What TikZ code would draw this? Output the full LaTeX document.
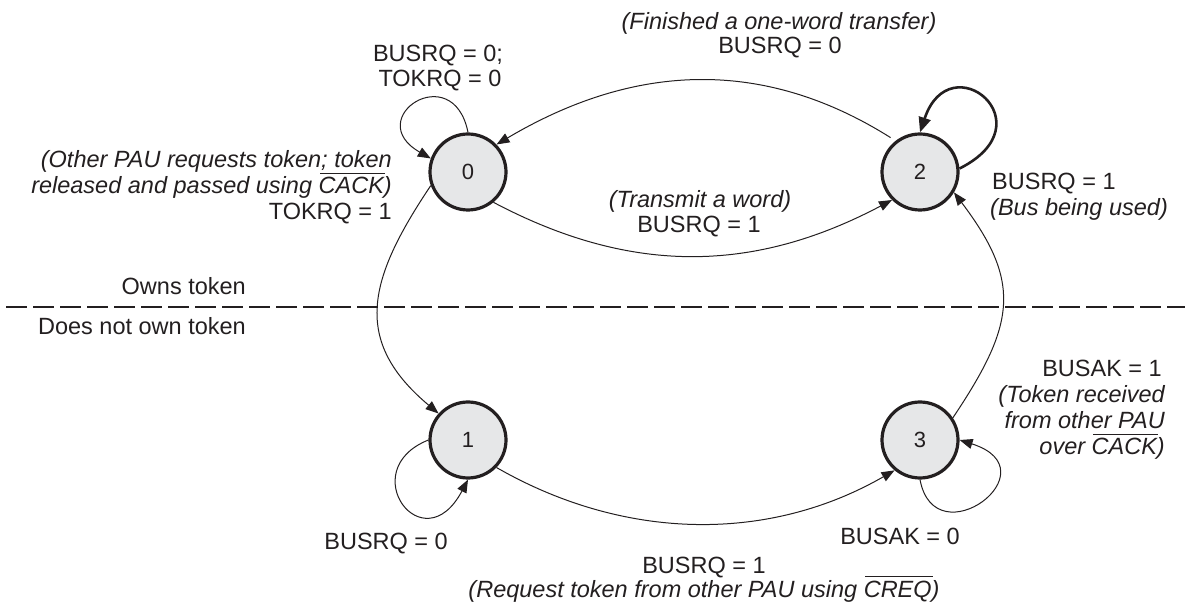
\documentclass[tikz,border=0pt]{standalone}
\usepackage{fontspec}
\setmainfont{Liberation Sans}
\usetikzlibrary{arrows.meta}
\definecolor{statefill}{HTML}{E6E7E8}
\definecolor{ink}{HTML}{231F20}
\newcommand\ovl[1]{\setbox0\hbox{#1}\rlap{\kern1.5pt\raise\dimexpr\ht0+3.5pt\relax\hbox{\vrule height 1.1pt depth 0pt width \wd0}}\box0}
\begin{document}
\begin{tikzpicture}[x=1pt,y=1pt,
  state/.style={circle,draw=ink,line width=3.2pt,fill=statefill,minimum size=76pt,inner sep=0pt,
    text=ink,font=\fontsize{22}{24}\selectfont},
  lbl/.style={inner sep=0pt,text=ink,font=\fontsize{23.5}{26}\selectfont},
  ilbl/.style={lbl,font=\fontsize{23.5}{26}\selectfont\itshape},
  edge/.style={draw=ink,line width=1pt,-{Triangle[length=13pt,width=10pt]}},
  boldedge/.style={edge,line width=2.6pt,-{Triangle[length=15pt,width=12pt]}},
  divider/.style={draw=ink,line width=2.4pt,dash pattern=on 20.5pt off 6.5pt,dash phase=21pt}
]
\useasboundingbox (0,0) rectangle (1185,605);

% states
\node[state] (s0) at (468,433) {0};
\node[state] (s2) at (920,433) {2};
\node[state] (s1) at (468,165) {1};
\node[state] (s3) at (920,165) {3};

% divider
\coordinate (dl) at (0,298);
\coordinate (dr) at (1185,298);
\draw[divider] (dl) -- (dr);

% transitions
\draw[edge] (s0.90) .. controls +(-15,75) and +(-70,40) .. (s0.160);
\draw[boldedge] (s2.5) .. controls +(90,45) and +(30,90) .. (s2.90);
\draw[edge] (s1.180) .. controls +(-75,-30) and +(-45,-85) .. (s1.-90);
\draw[edge] (s3.-90) .. controls +(15,-80) and +(95,-30) .. (s3.0);
\draw[edge,shorten <=6pt] (s2.128) .. controls +(-135,85) and +(135,80) .. (s0.44);
\draw[edge] (s0.-50) .. controls +(138,-73) and +(-138,-73) .. (s2.-135);
\draw[edge] (s0.200) .. controls +(-63,-94) and +(-87,73) .. (s1.138);
\draw[edge] (s1.-44) .. controls +(127,-73) and +(-127,-73) .. (s3.230);
\draw[edge] (s3.34) .. controls +(63,94) and +(68,-90) .. (s2.-31);

% labels
\node[ilbl,anchor=base] (ta) at (779,575) {(Finished a one-word transfer)};
\node[lbl,anchor=base] (tb) at (780,551) {BUSRQ = 0};

\node[lbl,anchor=base] (la) at (438,543) {BUSRQ = 0;};
\node[lbl,anchor=base] (lb) at (440,518) {TOKRQ = 0};

\node[ilbl,anchor=base east] (oa) at (392,437) {(Other PAU requests token; token};
\node[ilbl,anchor=base east] (ob) at (392,411) {released and passed using \ovl{CACK})};
\node[lbl,anchor=base east] (oc) at (392,385) {TOKRQ = 1};

\node[ilbl,anchor=base] (ma) at (700,397) {(Transmit a word)};
\node[lbl,anchor=base] (mb) at (699,372) {BUSRQ = 1};

\node[lbl,anchor=base west] (ra) at (992,415) {BUSRQ = 1};
\node[ilbl,anchor=base west] (rb) at (990,389) {(Bus being used)};

\node[lbl,anchor=base east] (own) at (246,310) {Owns token};
\node[lbl,anchor=base east] (nown) at (246,270) {Does not own token};

\node[lbl,anchor=base east] (ka) at (1162,228) {BUSAK = 1};
\node[ilbl,anchor=base east] (kb) at (1165,202) {(Token received};
\node[ilbl,anchor=base east] (kc) at (1165,176) {from other PAU};
\node[ilbl,anchor=base east] (kd) at (1165,150) {over \ovl{CACK})};

\node[lbl,anchor=base east] (qa) at (448,56) {BUSRQ = 0};
\node[lbl,anchor=base east] (qb) at (960,61) {BUSAK = 0};

\node[lbl,anchor=base] (ba) at (704,32) {BUSRQ = 1};
\node[ilbl,anchor=base] (bb) at (704,8) {(Request token from other PAU using \ovl{CREQ})};
\end{tikzpicture}
\end{document}
